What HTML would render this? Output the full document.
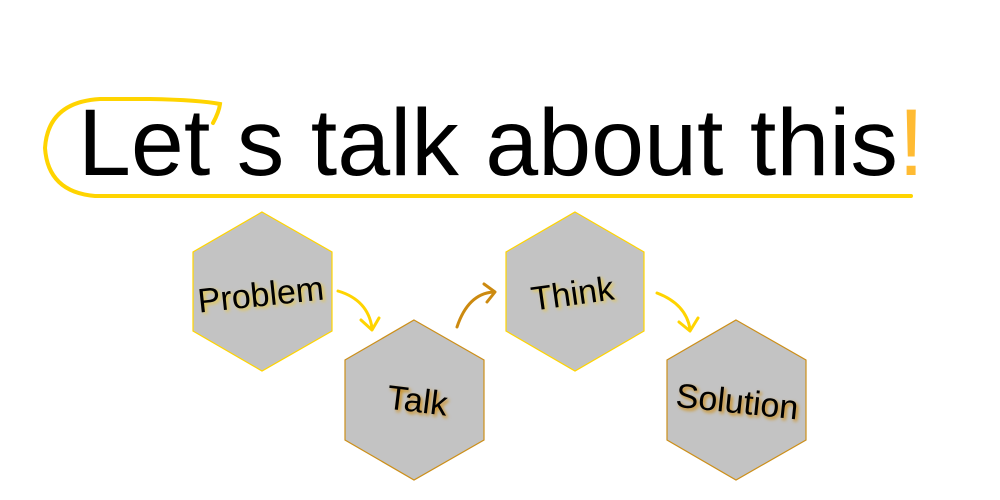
<!DOCTYPE html>
<html><head><style>
html,body{margin:0;padding:0;background:#fff;}
svg{display:block;}
text{font-family:"Liberation Sans",sans-serif;}
</style></head><body>
<svg width="1000" height="500" viewBox="0 0 1000 500" xmlns="http://www.w3.org/2000/svg">
<defs>
<filter id="gy" x="-20%" y="-40%" width="140%" height="180%"><feGaussianBlur stdDeviation="1.8"/></filter>
</defs>
<path d="M213,123 Q219,112 220,104 Q200,100 150,99 L100,99 Q48,102 45,148 Q48,192 95,196 L911,196" fill="none" stroke="#ffd400" stroke-width="4" stroke-linecap="round"/>
<text x="78" y="175" font-size="95" fill="#000" textLength="820" lengthAdjust="spacingAndGlyphs">Let<tspan fill="#fff"> </tspan>s talk about this</text>
<text x="898" y="175" font-size="95" fill="#ffbb33">!</text>
<polygon points="262,212 332,252 332,331 262,371 193,331 193,252" fill="#c3c3c3" stroke="#ffd400" stroke-width="1.2"/>
<polygon points="414,320 484,360 484,440 414,480 345,440 345,360" fill="#c3c3c3" stroke="#cc8f1a" stroke-width="1.2"/>
<polygon points="575,212 644,252 644,331 575,371 506,331 506,252" fill="#c3c3c3" stroke="#ffd400" stroke-width="1.2"/>
<polygon points="736,320 806,360 806,440 736,480 667,440 667,360" fill="#c3c3c3" stroke="#cc8f1a" stroke-width="1.2"/>
<g fill="none" stroke-width="3" stroke-linecap="round" stroke-linejoin="round">
<path d="M338,291 Q368,300 372,328 M361,320 L372,330 L379,318" stroke="#ffd400"/>
<path d="M457,327 Q468,294 493,292 M484,284 L495,292 L487,302" stroke="#cc8a10"/>
<path d="M657,293 Q686,304 690,329 M679,322 L690,331 L698,318" stroke="#ffd400"/>
</g>
<g font-size="34">
<g transform="translate(262,306) rotate(-6)"><text text-anchor="middle" fill="#e6c84a" filter="url(#gy)" x="2" y="2">Problem</text><text text-anchor="middle" fill="#000">Problem</text></g>
<g transform="translate(416,412) rotate(7)"><text text-anchor="middle" fill="#d08a10" filter="url(#gy)" x="2" y="2">Talk</text><text text-anchor="middle" fill="#000">Talk</text></g>
<g transform="translate(574,305) rotate(-8)"><text text-anchor="middle" fill="#e6c84a" filter="url(#gy)" x="2" y="2">Think</text><text text-anchor="middle" fill="#000">Think</text></g>
<g transform="translate(736,413) rotate(6)"><text text-anchor="middle" fill="#d08a10" filter="url(#gy)" x="2" y="2">Solution</text><text text-anchor="middle" fill="#000">Solution</text></g>
</g>
</svg>
</body></html>
